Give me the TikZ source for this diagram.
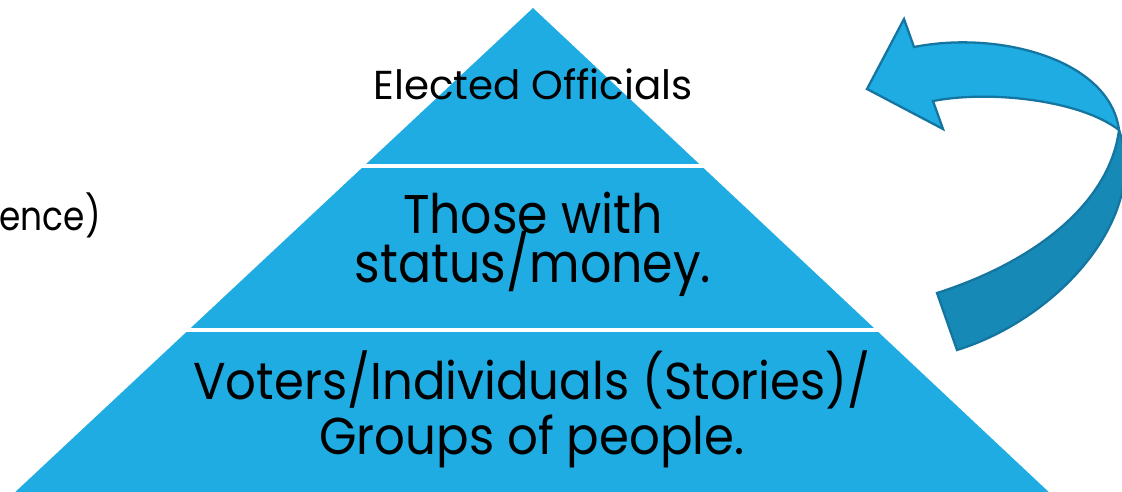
\documentclass[tikz,border=0pt]{standalone}
\usepackage{fontspec}
\setmainfont{Poppins}
\newfontfamily\popmid[FakeStretch=0.9]{Poppins}
\newfontfamily\popbot[FakeStretch=0.93]{Poppins}
\newfontfamily\popside[FakeStretch=0.85]{Poppins}
\definecolor{pyr}{RGB}{31,172,227}
\definecolor{arrlight}{RGB}{31,172,227}
\definecolor{arrdark}{RGB}{23,137,182}
\definecolor{arredge}{RGB}{20,118,160}
\tikzset{
  lbl/.style={inner sep=0pt, anchor=base, text=black},
  arrowpart/.style={draw=arredge, line width=1.3pt, line join=miter}
}
\begin{document}
\begin{tikzpicture}[x=0.02cm,y=-0.02cm]
\useasboundingbox (0,0) rectangle (1122,491);
\clip (0,0) rectangle (1122,491);
% pyramid
\fill[pyr] (533,8) -- (1053,496) -- (11,496) -- cycle;
\draw[white, line width=2.3pt] (360,166) -- (706,166);
\draw[white, line width=2.3pt] (180,330) -- (886,330);
% labels
\node[lbl, font=\fontsize{23}{28}\selectfont] (top) at (533,99) {Elected Officials};
\node[lbl, font=\popmid\fontsize{31}{28.35}\selectfont] (mid) at (533,233)
  {\begin{tabular}[t]{@{}c@{}}\smash{Those with}\\\smash{status/money.}\end{tabular}};
\node[lbl, font=\popbot\fontsize{29.5}{31.75}\selectfont] (bot) at (532,399)
  {\begin{tabular}[t]{@{}c@{}}\smash{Voters/Individuals (Stories)/}\\\smash{Groups of people.}\end{tabular}};
\node[lbl, anchor=base east, font=\popside\fontsize{23}{28}\selectfont] (side) at (101,230) {ence)};
% curved arrow: dark lower part
\path[arrowpart, fill=arrdark] (1119,130) .. controls (1110,200) and (1040,260) .. (937,293)
  -- (957,350) .. controls (1060,318) and (1150,215) .. (1119,130) -- cycle;
% light upper part with head
\path[arrowpart, fill=arrlight] (914,47) .. controls (1000,30) and (1110,60) .. (1119,130)
  .. controls (1080,100) and (990,90) .. (933,101)
  -- (943,129) -- (867,89) -- (904,19) -- cycle;
\end{tikzpicture}
\end{document}
